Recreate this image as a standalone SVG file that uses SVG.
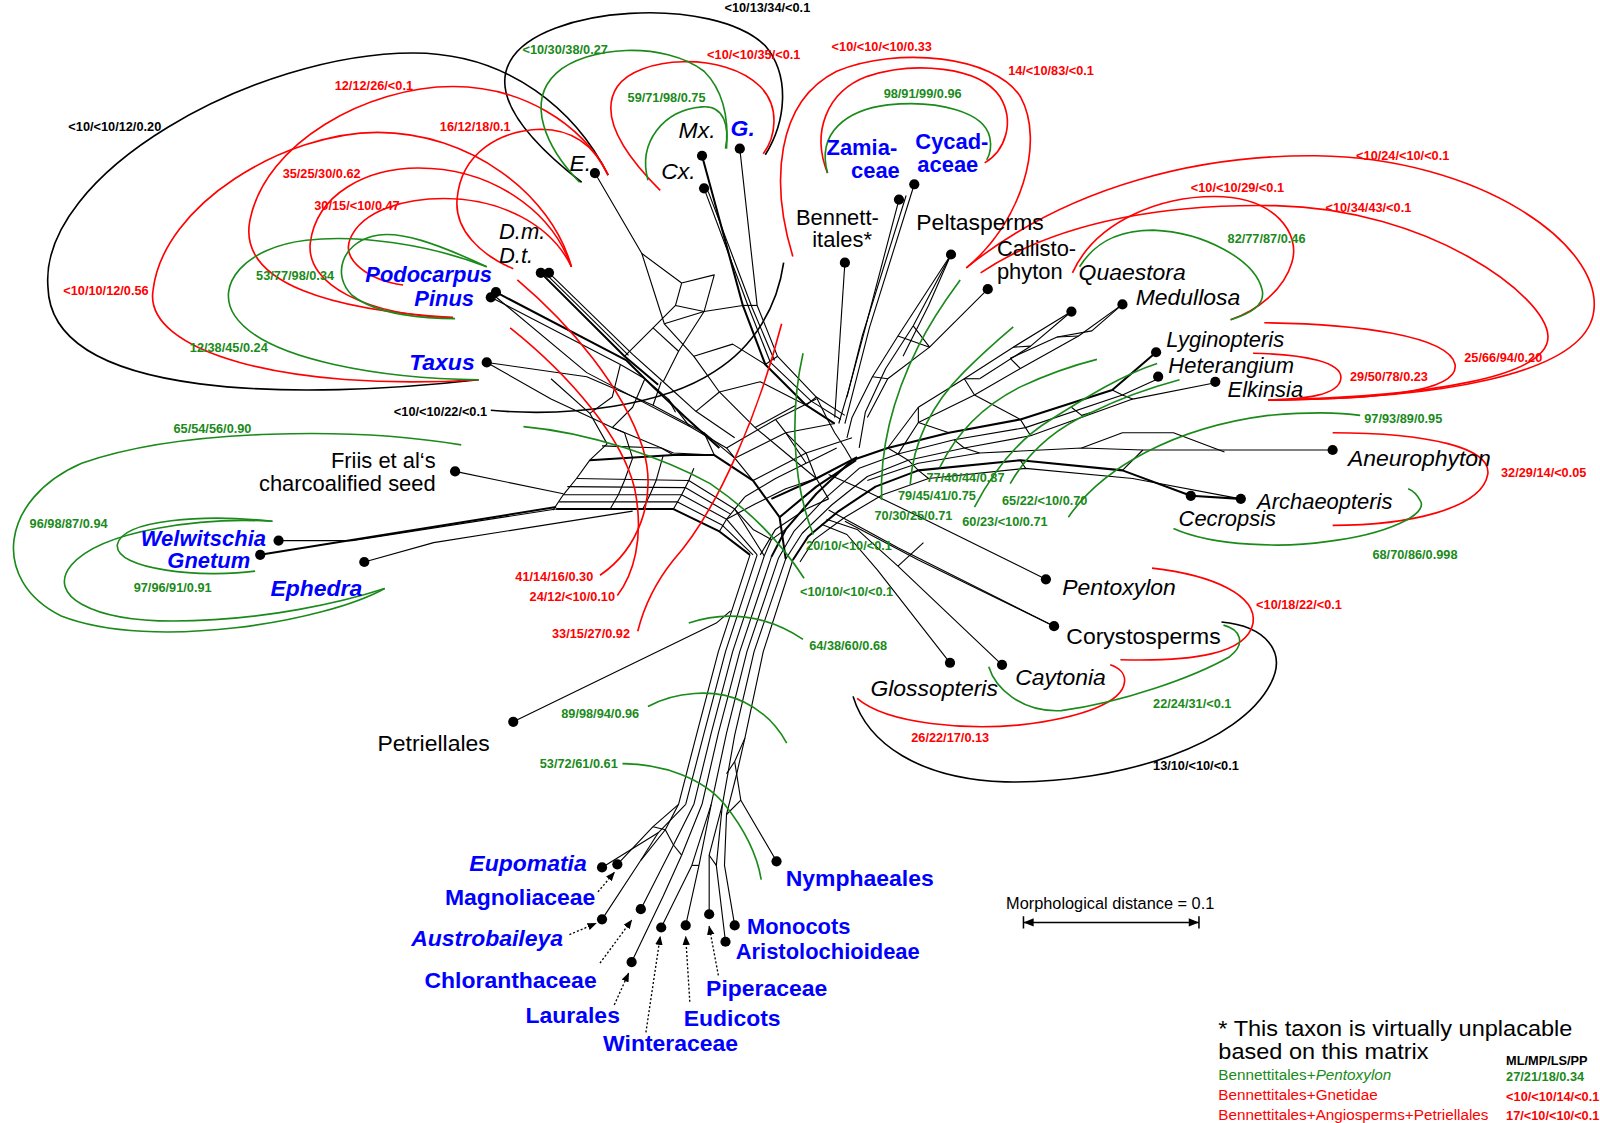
<svg xmlns="http://www.w3.org/2000/svg" width="1600" height="1123" viewBox="0 0 1600 1123">
<defs>
<style>
text{font-family:"Liberation Sans",Arial,sans-serif}
.L{font-size:22.5px;fill:#000}
.S{font-size:21.5px}
.i{font-style:italic}
.b{font-weight:bold;fill:#0000ff}
.n{font-size:12.5px;font-weight:bold}
.cr{fill:#ff0000}.cg{fill:#1a8a1a}.ck{fill:#000}
.net path{fill:none;stroke:#000;stroke-width:1.1;stroke-linejoin:round}
.net path.w{stroke-width:2}
.arc{fill:none;stroke-width:1.6}
.sr{stroke:#ff0000}.sg{stroke:#1a8a1a}.sk{stroke:#000}
.dot{fill:#000}
.dt{fill:none;stroke:#000;stroke-width:1.3;stroke-dasharray:2 2;marker-end:url(#ah)}
.lg{font-size:15px}
</style>
<marker id="ah" viewBox="0 0 10 10" refX="9" refY="5" markerWidth="7" markerHeight="7" orient="auto"><path d="M0,1 L10,5 L0,9 z" fill="#000"/></marker>
</defs>
<rect width="1600" height="1123" fill="#fff"/>
<g transform="scale(1.0204 1.0181)">

<g id="connectors" class="net">
<path d="M273,531 L345,531 L545,500"/>
<path class="w" d="M255,545 L545,498"/>
<path d="M357,552 L425,533 L620,502"/>
<path d="M446,463 L552,485"/>
<path class="w" d="M545,500 L660,500 L705,522 L735,545"/>
<path d="M548,493 L664,493 L708,516 L738,545"/>
<path d="M552,486 L668,486 L712,510 L742,545"/>
<path d="M556,478 L672,479 L716,505"/>
<path d="M565,470 L675,472 L720,500 L749,546"/>
<path class="w" d="M578,452 L660,447 L700,447 L738,472 L764,508 L770,549"/>
<path d="M542,501 L552,486 L565,470 L578,452 L595,436"/>
<path d="M598,500 L606,486 L612,472 L620,450"/>
<path d="M630,500 L637,486 L643,472 L650,447"/>
<path d="M660,500 L668,486 L675,472 L680,460"/>
<path d="M705,522 L712,510 L720,500 L730,488"/>
<path d="M590,438 L648,440 L660,447"/>
<path d="M595,436 L578,406 L540,372"/>
<path d="M620,450 L612,425 L600,420"/>
<path d="M477,356 L575,370 L640,398 L690,425 L720,450"/>
<path d="M477,356 L540,392 L600,420 L660,445 L700,447"/>
<path class="w" d="M486,287 L614,354 L640,380 L672,410 L705,440"/>
<path d="M481,292 L608,358 L632,372 L655,392 L676,419 L712,440 L738,472"/>
<path d="M484,290 L575,366 L676,419"/>
<path class="w" d="M530,268 L612,350 L645,378"/>
<path d="M538,268 L620,348 L650,375 L682,404 L720,430"/>
<path d="M534,268 L616,349"/>
<path d="M608,358 L600,390 L578,406"/>
<path d="M632,372 L620,400 L600,420"/>
<path d="M640,398 L648,375"/>
<path d="M690,425 L700,447"/>
<path d="M655,392 L662,405"/>
<path d="M612,350 L640,322 L665,345 L650,375"/>
<path d="M640,322 L662,300 L690,306 L665,345"/>
<path d="M662,300 L668,278 L700,270 L690,306"/>
<path d="M583,170 L629,249 L651,318 L680,350 L705,385 L740,420 L770,445 L800,470"/>
<path d="M629,249 L668,278"/>
<path d="M651,318 L690,306 L728,300"/>
<path d="M680,350 L718,338 L750,358"/>
<path d="M705,385 L745,375 L790,398"/>
<path d="M740,420 L780,398"/>
<path d="M682,404 L705,385"/>
<path class="w" d="M688,153 L728,300 L750,358 L790,398 L818,416"/>
<path d="M690,185 L733,300 L755,356 L795,394 L824,412"/>
<path d="M694,188 L737,302 L759,354"/>
<path d="M725,146 L742,300 L762,350 L800,390 L828,408"/>
<path d="M728,300 L742,300"/>
<path d="M750,358 L762,350"/>
<path d="M790,398 L800,390"/>
<path d="M720,450 L770,425 L818,416"/>
<path d="M738,472 L790,445 L835,430"/>
<path class="w" d="M756,490 L800,470 L840,449"/>
<path d="M770,425 L790,445 L800,470 L812,490"/>
<path d="M712,440 L760,412 L800,392"/>
<path class="w" d="M764,508 L800,478 L839,452"/>
<path d="M745,545 L760,520 L790,500 L812,490"/>
<path d="M730,488 L760,470 L790,455 L820,440"/>
<path d="M712,510 L740,495 L770,480 L800,470"/>
<path d="M760,412 L770,425 L780,440 L790,455"/>
<path d="M800,390 L810,410 L818,425 L828,440 L835,452"/>
<path d="M749,546 L756,530 L770,520"/>
<path d="M720,500 L738,520 L756,530"/>
<path d="M735,545 L704,640 L683,720 L665,790"/>
<path d="M742,545 L711,640 L690,720 L672,790"/>
<path d="M749,546 L718,640 L697,720 L680,790"/>
<path d="M756,547 L725,640 L704,720 L688,790"/>
<path d="M763,548 L732,640 L712,720 L697,790"/>
<path d="M770,549 L739,640 L720,722 L708,790"/>
<path d="M777,550 L748,640 L730,725 L722,760"/>
<path d="M503,709 L702,612 L716,600"/>
<path d="M665,790 L640,812 L605,849"/>
<path d="M672,790 L645,818 L590,852"/>
<path d="M665,790 L652,815 L628,845 L590,903"/>
<path d="M680,790 L660,830 L628,893"/>
<path d="M688,790 L668,840 L650,880 L619,945"/>
<path d="M697,790 L678,850 L648,911"/>
<path d="M697,790 L685,850 L672,909"/>
<path d="M708,790 L695,840 L695,898"/>
<path d="M708,790 L702,850 L711,925"/>
<path d="M722,760 L712,800 L710,850 L720,909"/>
<path d="M761,846 L726,786 L720,748 L730,725"/>
<path d="M640,812 L652,815"/>
<path d="M645,818 L628,845"/>
<path d="M660,830 L668,840"/>
<path d="M678,850 L685,850"/>
<path d="M695,840 L702,850"/>
<path d="M712,800 L726,786"/>
<path d="M720,748 L712,760"/>
<path d="M652,815 L660,830"/>
<path d="M881,196 L848,322 L832,382 L822,416"/>
<path d="M896,181 L852,322 L836,385 L828,416"/>
<path d="M888,192 L845,330 L830,390"/>
<path d="M828,258 L818,410"/>
<path d="M932,250 L880,330 L855,370 L835,410 L830,430"/>
<path d="M932,250 L895,320 L868,362 L848,405 L842,440"/>
<path d="M932,250 L910,300 L885,350"/>
<path d="M968,284 L911,341 L870,372 L850,410"/>
<path d="M1050,306 L993,341 L945,372 L900,400 L870,440"/>
<path d="M1050,306 L1010,340 L960,372"/>
<path d="M1100,299 L1057,330 L1000,362 L955,388 L900,415 L880,446"/>
<path d="M1100,299 L1070,325 L1036,331 L990,352"/>
<path d="M911,341 L895,320"/>
<path d="M880,330 L911,341"/>
<path d="M855,370 L870,372"/>
<path d="M945,372 L960,372"/>
<path d="M945,372 L955,388"/>
<path d="M900,400 L900,415"/>
<path d="M900,415 L930,425"/>
<path d="M955,388 L1000,412"/>
<path d="M993,341 L1010,340"/>
<path d="M1036,331 L1057,330"/>
<path d="M1000,362 L990,352"/>
<path class="w" d="M756,547 L770,520 L800,485 L835,452 L870,440 L930,425 L1000,412 L1090,383 L1133,346"/>
<path d="M763,548 L778,522 L808,490 L842,460 L880,446 L935,432 L1005,420 L1100,388 L1135,372"/>
<path d="M770,549 L786,524 L815,496 L850,468 L890,452 L945,440 L1010,428 L1110,392 L1191,376"/>
<path class="w" d="M777,550 L792,527 L822,502 L858,478 L900,462 L1000,452 L1100,462 L1167,487 L1216,490"/>
<path d="M784,552 L798,530 L828,508 L865,486 L910,470 L1005,460 L1110,470 L1216,490"/>
<path d="M850,472 L900,455 L960,445 L1060,440 L1120,442 L1306,442"/>
<path d="M870,440 L880,446 L890,452 L900,462 L910,470"/>
<path d="M1000,412 L1005,420 L1010,428"/>
<path d="M1000,452 L1005,460"/>
<path d="M935,432 L945,440 L960,445"/>
<path d="M1090,383 L1100,388 L1110,392"/>
<path d="M1060,440 L1100,425 L1150,425 L1200,444"/>
<path d="M1050,400 L1060,408 L1070,405"/>
<path d="M1100,462 L1120,442"/>
<path d="M1025,569 L900,507 L846,481 L812,466"/>
<path d="M1033,615 L880,538 L812,501"/>
<path d="M1033,615 L900,550 L828,512"/>
<path d="M982,653 L880,556 L840,520 L810,510"/>
<path d="M931,651 L860,560 L830,525 L805,515"/>
<path d="M880,556 L905,533"/>
</g>

<g id="splits">
<path class="arc sk" d="M469,373 C300,392 50,395 47,282 C38,170 250,52 405,52 C500,52 565,110 596,172"/>
<path class="arc sk" d="M570,179 C520,140 480,95 500,60 C530,5 700,-5 750,45 C775,75 770,120 750,152"/>
<path class="arc sk" d="M481,403 C560,410 650,398 700,365 C740,340 762,300 768,258"/>
<path class="arc sk" d="M1197,611 C1240,615 1262,640 1245,672 C1215,730 1100,770 985,768 C900,765 850,730 836,684"/>
<path class="arc sr" d="M444,312 C330,305 232,280 245,216 C260,140 360,85 444,85 C510,85 570,120 596,172"/>
<path class="arc sr" d="M503,264 C470,250 445,225 448,195 C452,150 490,128 530,127 C565,127 585,148 596,172"/>
<path class="arc sr" d="M469,373 C280,385 140,345 150,285 C160,200 280,130 370,130 C460,130 540,190 560,262"/>
<path class="arc sr" d="M444,312 C360,310 300,280 304,239 C310,190 360,165 410,165 C480,165 540,205 560,262"/>
<path class="arc sr" d="M395,280 C360,275 335,255 343,235 C355,205 400,195 435,195 C490,195 540,220 560,262"/>
<path class="arc sr" d="M647,187 C615,155 585,115 605,85 C625,55 710,50 745,85 C765,105 760,135 748,151"/>
<path class="arc sr" d="M777,252 C755,180 760,100 820,70 C880,45 975,55 1000,95 C1025,140 1000,220 947,263"/>
<path class="arc sr" d="M811,170 C795,130 810,90 850,75 C895,60 960,65 980,95 C995,120 985,148 965,160"/>
<path class="arc sr" d="M947,263 C1050,180 1180,152 1290,153 C1450,155 1570,240 1562,305 C1555,370 1400,392 1243,393"/>
<path class="arc sr" d="M961,268 C1040,215 1150,200 1250,202 C1400,205 1515,290 1517,330 C1519,370 1400,390 1243,393"/>
<path class="arc sr" d="M1051,268 C1075,215 1140,193 1190,193 C1250,193 1275,230 1266,258 C1258,285 1232,305 1206,314"/>
<path class="arc sr" d="M1239,317 C1330,318 1420,330 1426,358 C1430,385 1350,392 1243,393"/>
<path class="arc sr" d="M1228,347 C1280,348 1316,356 1314,372 C1312,388 1280,392 1243,393"/>
<path class="arc sr" d="M1306,425 C1400,425 1462,440 1458,466 C1452,500 1380,516 1306,516"/>
<path class="arc sr" d="M1129,558 C1190,565 1232,585 1228,612 C1222,642 1170,650 1098,648"/>
<path class="arc sr" d="M840,686 C870,712 950,717 1000,712 C1060,705 1100,690 1102,670 C1103,662 1097,656 1088,653"/>
<path class="arc sr" d="M507,275 C560,320 610,380 630,440 C645,490 625,540 588,565"/>
<path class="arc sr" d="M500,322 C560,370 610,430 622,480 C632,530 620,565 605,585"/>
<path class="arc sr" d="M766,318 C745,400 705,500 660,550 C640,575 630,600 625,620"/>
<path class="arc sg" d="M568,179 C535,145 515,100 545,72 C575,45 650,40 690,70 C710,90 714,120 712,146"/>
<path class="arc sg" d="M635,177 C625,140 650,108 688,105 C710,103 715,125 711,146"/>
<path class="arc sg" d="M811,170 C800,130 830,108 870,103 C920,98 965,110 970,135 C972,145 970,152 967,157"/>
<path class="arc sg" d="M477,262 C430,240 390,225 365,232 C335,240 325,270 345,290 C370,310 420,313 446,313"/>
<path class="arc sg" d="M477,262 C420,240 350,230 300,236 C240,243 210,280 230,310 C260,355 380,372 469,373"/>
<path class="arc sg" d="M1058,262 C1075,235 1100,226 1130,226 C1180,228 1230,255 1237,285 C1240,300 1225,308 1206,314"/>
<path class="arc sg" d="M1047,508 C1080,460 1150,420 1243,408 C1290,404 1320,406 1333,408"/>
<path class="arc sg" d="M1150,519 C1190,537 1260,538 1300,532 C1360,525 1400,505 1392,492 C1389,486 1385,482 1380,480"/>
<path class="arc sg" d="M1199,614 C1215,618 1222,632 1205,645 C1170,665 1100,690 1040,698 C1000,700 975,675 969,655"/>
<path class="arc sg" d="M452,437 C350,420 180,420 80,455 C0,490 -10,570 60,605 C150,640 320,610 377,578"/>
<path class="arc sg" d="M267,512 C200,508 100,520 70,555 C45,585 90,610 170,610 C260,610 340,590 377,578"/>
<path class="arc sg" d="M267,512 C200,505 120,510 115,535 C112,560 200,568 250,561"/>
<path class="arc sg" d="M864,491 C862,440 875,390 900,340 C915,310 930,290 941,275"/>
<path class="arc sg" d="M892,476 C895,430 915,395 945,365 C960,350 980,332 993,321"/>
<path class="arc sg" d="M921,459 C940,420 970,395 1000,380 C1030,366 1055,358 1075,353"/>
<path class="arc sg" d="M955,498 C975,460 1000,430 1030,412 C1065,390 1100,368 1134,357"/>
<path class="arc sg" d="M990,475 C1010,440 1040,418 1070,405 C1100,390 1130,380 1156,373"/>
<path class="arc sg" d="M787,347 C775,400 775,470 797,525"/>
<path class="arc sg" d="M513,419 C580,425 650,450 696,475 C740,505 770,540 788,568"/>
<path class="arc sg" d="M675,612 C710,600 750,603 787,628"/>
<path class="arc sg" d="M635,694 C660,680 700,675 730,690 C750,700 763,715 771,730"/>
<path class="arc sg" d="M610,750 C650,750 690,765 710,790 C730,815 742,840 746,864"/>
</g>

<g id="split-labels" class="n">
<text class="ck" x="710" y="12">&lt;10/13/34/&lt;0.1</text>
<text class="cg" x="512" y="53">&lt;10/30/38/0.27</text>
<text class="cr" x="693" y="58">&lt;10/&lt;10/35/&lt;0.1</text>
<text class="cr" x="815" y="50">&lt;10/&lt;10/&lt;10/0.33</text>
<text class="cr" x="988" y="74">14/&lt;10/83/&lt;0.1</text>
<text class="cg" x="615" y="100">59/71/98/0.75</text>
<text class="cg" x="866" y="96">98/91/99/0.96</text>
<text class="cr" x="328" y="88">12/12/26/&lt;0.1</text>
<text class="ck" x="67" y="129">&lt;10/&lt;10/12/0.20</text>
<text class="cr" x="431" y="129">16/12/18/0.1</text>
<text class="cr" x="277" y="175">35/25/30/0.62</text>
<text class="cr" x="308" y="206">30/15/&lt;10/0.47</text>
<text class="cg" x="251" y="275">53/77/98/0.34</text>
<text class="cr" x="62" y="290">&lt;10/10/12/0.56</text>
<text class="cg" x="186" y="346">12/38/45/0.24</text>
<text class="ck" x="386" y="409">&lt;10/&lt;10/22/&lt;0.1</text>
<text class="cg" x="170" y="425">65/54/56/0.90</text>
<text class="cg" x="29" y="519">96/98/87/0.94</text>
<text class="cg" x="131" y="581">97/96/91/0.91</text>
<text class="cr" x="505" y="571">41/14/16/0.30</text>
<text class="cr" x="519" y="590">24/12/&lt;10/0.10</text>
<text class="cr" x="541" y="627">33/15/27/0.92</text>
<text class="cg" x="790" y="540">20/10/&lt;10/&lt;0.1</text>
<text class="cg" x="784" y="585">&lt;10/10/&lt;10/&lt;0.1</text>
<text class="cg" x="793" y="638">64/38/60/0.68</text>
<text class="cg" x="550" y="705">89/98/94/0.96</text>
<text class="cg" x="529" y="754">53/72/61/0.61</text>
<text class="cr" x="1329" y="157">&lt;10/24/&lt;10/&lt;0.1</text>
<text class="cr" x="1167" y="189">&lt;10/&lt;10/29/&lt;0.1</text>
<text class="cr" x="1299" y="208">&lt;10/34/43/&lt;0.1</text>
<text class="cg" x="1203" y="239">82/77/87/0.46</text>
<text class="cr" x="1435" y="356">25/66/94/0.20</text>
<text class="cr" x="1323" y="374">29/50/78/0.23</text>
<text class="cg" x="1337" y="415">97/93/89/0.95</text>
<text class="cr" x="1471" y="469">32/29/14/&lt;0.05</text>
<text class="cg" x="1345" y="549">68/70/86/0.998</text>
<text class="cg" x="908" y="473">77/40/44/0.87</text>
<text class="cg" x="880" y="491">79/45/41/0.75</text>
<text class="cg" x="982" y="496">65/22/&lt;10/0.70</text>
<text class="cg" x="857" y="511">70/30/25/0.71</text>
<text class="cg" x="943" y="517">60/23/&lt;10/0.71</text>
<text class="cr" x="1231" y="598">&lt;10/18/22/&lt;0.1</text>
<text class="cg" x="1130" y="695">22/24/31/&lt;0.1</text>
<text class="cr" x="893" y="729">26/22/17/0.13</text>
<text class="ck" x="1130" y="756">13/10/&lt;10/&lt;0.1</text>
</g>

<g id="n-E"><circle class="dot" cx="583" cy="170" r="5"/><text class="L i" x="558" y="168">E.</text></g>
<g id="n-Mx"><circle class="dot" cx="688" cy="153" r="5"/><text class="L i" x="665" y="136">Mx.</text></g>
<g id="n-Cx"><circle class="dot" cx="690" cy="185" r="5"/><text class="L i" x="648" y="176">Cx.</text></g>
<g id="n-G"><circle class="dot" cx="725" cy="146" r="5"/><text class="L i b" x="716" y="134">G.</text></g>
<g id="n-zamiaceae"><circle class="dot" cx="881" cy="196" r="5"/><text class="L S b" x="810" y="152">Zamia-</text><text class="L S b" x="834" y="175">ceae</text></g>
<g id="n-cycadaceae"><circle class="dot" cx="896" cy="181" r="5"/><text class="L S b" x="897" y="146">Cycad-</text><text class="L S b" x="899" y="169">aceae</text></g>
<g id="n-bennettitales"><circle class="dot" cx="828" cy="258" r="5"/><text class="L S" x="780" y="221">Bennett-</text><text class="L S" x="796" y="243">itales*</text></g>
<g id="n-peltasperms"><circle class="dot" cx="932" cy="250" r="5"/><text class="L" x="898" y="226">Peltasperms</text></g>
<g id="n-callistophyton"><circle class="dot" cx="968" cy="284" r="5"/><text class="L S" x="977" y="251">Callisto-</text><text class="L S" x="977" y="274">phyton</text></g>
<g id="n-quaestora"><circle class="dot" cx="1050" cy="306" r="5"/><text class="L i" x="1057" y="275">Quaestora</text></g>
<g id="n-medullosa"><circle class="dot" cx="1100" cy="299" r="5"/><text class="L i" x="1113" y="300">Medullosa</text></g>
<g id="n-lyginopteris"><circle class="dot" cx="1133" cy="346" r="5"/><text class="L S i" x="1143" y="341">Lyginopteris</text></g>
<g id="n-heterangium"><circle class="dot" cx="1135" cy="370" r="5"/><text class="L S i" x="1145" y="366">Heterangium</text></g>
<g id="n-elkinsia"><circle class="dot" cx="1191" cy="375" r="5"/><text class="L S i" x="1203" y="390">Elkinsia</text></g>
<g id="n-aneurophyton"><circle class="dot" cx="1306" cy="442" r="5"/><text class="L i" x="1321" y="458">Aneurophyton</text></g>
<g id="n-archaeopteris"><circle class="dot" cx="1216" cy="490" r="5"/><text class="L S i" x="1232" y="500">Archaeopteris</text></g>
<g id="n-cecropsis"><circle class="dot" cx="1167" cy="487" r="5"/><text class="L S i" x="1155" y="517">Cecropsis</text></g>
<g id="n-pentoxylon"><circle class="dot" cx="1025" cy="569" r="5"/><text class="L i" x="1041" y="584">Pentoxylon</text></g>
<g id="n-corystosperms"><circle class="dot" cx="1033" cy="615" r="5"/><text class="L" x="1045" y="633">Corystosperms</text></g>
<g id="n-caytonia"><circle class="dot" cx="982" cy="653" r="5"/><text class="L i" x="995" y="673">Caytonia</text></g>
<g id="n-glossopteris"><circle class="dot" cx="931" cy="651" r="5"/><text class="L i" x="853" y="684">Glossopteris</text></g>
<g id="n-petriellales"><circle class="dot" cx="503" cy="709" r="5"/><text class="L" x="370" y="738">Petriellales</text></g>
<g id="n-friis"><circle class="dot" cx="446" cy="463" r="5"/><text class="L S" x="427" y="460" text-anchor="end">Friis et al‘s</text><text class="L S" x="427" y="482" text-anchor="end">charcoalified seed</text></g>
<g id="n-welwitschia"><circle class="dot" cx="273" cy="531" r="5"/><text class="L S i b" x="138" y="536">Welwitschia</text></g>
<g id="n-gnetum"><circle class="dot" cx="255" cy="545" r="5"/><text class="L S i b" x="164" y="558">Gnetum</text></g>
<g id="n-ephedra"><circle class="dot" cx="357" cy="552" r="5"/><text class="L i b" x="265" y="585">Ephedra</text></g>
<g id="n-taxus"><circle class="dot" cx="477" cy="356" r="5"/><text class="L i b" x="401" y="363">Taxus</text></g>
<g id="n-podocarpus"><circle class="dot" cx="486" cy="287" r="5"/><text class="L S i b" x="358" y="277">Podocarpus</text></g>
<g id="n-pinus"><circle class="dot" cx="481" cy="292" r="5"/><text class="L S i b" x="406" y="301">Pinus</text></g>
<g id="n-Dm"><circle class="dot" cx="530" cy="268" r="5"/><text class="L S i" x="489" y="235">D.m.</text></g>
<g id="n-Dt"><circle class="dot" cx="538" cy="268" r="5"/><text class="L S i" x="489" y="258">D.t.</text></g>
<g id="n-eupomatia"><circle class="dot" cx="590" cy="852" r="5"/><text class="L i b" x="460" y="856">Eupomatia</text></g>
<g id="n-magnoliaceae"><circle class="dot" cx="605" cy="849" r="5"/><path class="dt" d="M586,876 L602,857"/><text class="L b" x="436" y="889">Magnoliaceae</text></g>
<g id="n-austrobaileya"><circle class="dot" cx="590" cy="903" r="5"/><path class="dt" d="M558,918 L584,907"/><text class="L i b" x="403" y="929">Austrobaileya</text></g>
<g id="n-chloranthaceae"><circle class="dot" cx="628" cy="893" r="5"/><path class="dt" d="M588,946 L619,904"/><text class="L b" x="416" y="970">Chloranthaceae</text></g>
<g id="n-laurales"><circle class="dot" cx="619" cy="945" r="5"/><path class="dt" d="M602,987 L616,956"/><text class="L b" x="515" y="1005">Laurales</text></g>
<g id="n-winteraceae"><circle class="dot" cx="648" cy="911" r="5"/><path class="dt" d="M633,1014 L647,920"/><text class="L b" x="591" y="1032">Winteraceae</text></g>
<g id="n-eudicots"><circle class="dot" cx="672" cy="909" r="5"/><path class="dt" d="M676,984 L672,920"/><text class="L b" x="670" y="1008">Eudicots</text></g>
<g id="n-piperaceae"><circle class="dot" cx="695" cy="898" r="5"/><path class="dt" d="M704,958 L695,910"/><text class="L b" x="692" y="978">Piperaceae</text></g>
<g id="n-monocots"><circle class="dot" cx="720" cy="909" r="5"/><text class="L S b" x="732" y="917">Monocots</text></g>
<g id="n-aristolochioideae"><circle class="dot" cx="711" cy="925" r="5"/><text class="L S b" x="721" y="942">Aristolochioideae</text></g>
<g id="n-nymphaeales"><circle class="dot" cx="761" cy="846" r="5"/><text class="L b" x="770" y="870">Nymphaeales</text></g>

<g id="scale">
<text x="986" y="893" style="font-size:16px">Morphological distance = 0.1</text>
<path d="M1003,906 H1175 M1003,900 V912 M1175,900 V912" stroke="#000" stroke-width="1.5" fill="none"/>
<path d="M1003,906 L1013,902 L1013,910 z M1175,906 L1165,902 L1165,910 z" fill="#000"/>
</g>

<g id="legend">
<text x="1194" y="1018" style="font-size:21.5px" textLength="347" lengthAdjust="spacingAndGlyphs">* This taxon is virtually unplacable</text>
<text x="1194" y="1040" style="font-size:21.5px" textLength="206" lengthAdjust="spacingAndGlyphs">based on this matrix</text>
<text class="n ck" x="1476" y="1046">ML/MP/LS/PP</text>
<text class="lg cg" x="1194" y="1061">Bennettitales+<tspan font-style="italic">Pentoxylon</tspan></text>
<text class="n cg" x="1476" y="1062">27/21/18/0.34</text>
<text class="lg cr" x="1194" y="1080">Bennettitales+Gnetidae</text>
<text class="n cr" x="1476" y="1081">&lt;10/&lt;10/14/&lt;0.1</text>
<text class="lg cr" x="1194" y="1100">Bennettitales+Angiosperms+Petriellales</text>
<text class="n cr" x="1476" y="1100">17/&lt;10/&lt;10/&lt;0.1</text>
</g>

</g>
</svg>
